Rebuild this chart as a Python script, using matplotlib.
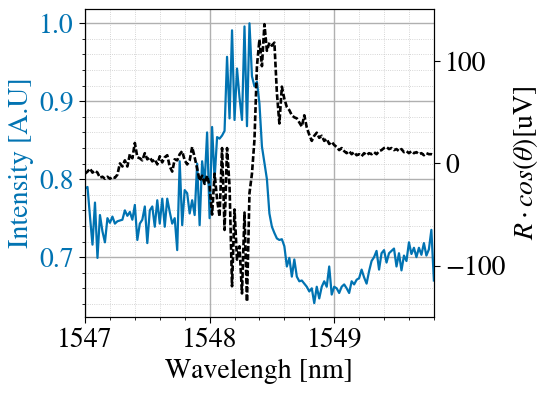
import numpy as np
import matplotlib
matplotlib.use("Agg")
import matplotlib.pyplot as plt
from matplotlib.ticker import MultipleLocator

# ---- data ----
wavelength = np.round(1547.0 + 0.02 * np.arange(141), 2)

intensity = [
    0.788, 0.790, 0.752, 0.716, 0.770, 0.699, 0.754, 0.733, 0.719, 0.750,
    0.744, 0.752, 0.743, 0.746, 0.747, 0.748, 0.760, 0.753, 0.758, 0.748,
    0.767, 0.722, 0.743, 0.748, 0.765, 0.718, 0.760, 0.765, 0.739, 0.773,
    0.743, 0.775, 0.739, 0.775, 0.758, 0.743, 0.750, 0.709, 0.823, 0.741,
    0.786, 0.782, 0.756, 0.773, 0.754, 0.820, 0.741, 0.823, 0.795, 0.860,
    0.750, 0.867, 0.800, 0.854, 0.852, 0.856, 0.862, 0.957, 0.878, 0.991,
    0.876, 0.942, 0.905, 0.876, 0.996, 0.868, 1.000, 0.932, 0.919, 0.925,
    0.897, 0.842, 0.821, 0.800, 0.756, 0.739, 0.731, 0.724, 0.722, 0.723,
    0.714, 0.688, 0.699, 0.675, 0.697, 0.675, 0.669, 0.670, 0.666, 0.662,
    0.656, 0.660, 0.641, 0.662, 0.647, 0.662, 0.669, 0.662, 0.688, 0.652,
    0.662, 0.660, 0.654, 0.662, 0.665, 0.660, 0.654, 0.669, 0.665, 0.671,
    0.673, 0.684, 0.674, 0.666, 0.682, 0.695, 0.700, 0.708, 0.684, 0.705,
    0.709, 0.693, 0.705, 0.708, 0.711, 0.688, 0.705, 0.683, 0.702, 0.695,
    0.719, 0.704, 0.712, 0.700, 0.712, 0.703, 0.718, 0.702, 0.710, 0.735, 0.670,
]

r_cos = [
    -10, -8, -5, -9, -7, -9, -14, -13, -15, -13,
    -15, -13, -14, -11, 0, -3, 3, -3, 9, 5,
    20, 6, 5, 3, 10, 4, 6, 2, 4, -1,
    7, 1, 6, 8, -3, -8, 4, 3, 9, 12,
    3, -1, 3, 16, 6, -5, -17, -12, -20, -12,
    -22, -50, -10, -35, -52, 15, -65, 15, -22, -120,
    -45, -94, -81, -127, -48, -135, -29, -10, 23, 95,
    121, 95, 136, 110, 118, 115, 118, 69, 39, 75,
    63, 55, 52, 47, 45, 44, 40, 36, 47, 35,
    28, 22, 27, 30, 25, 27, 22, 24, 19, 21,
    18, 16, 13, 15, 12, 10, 12, 9, 11, 8,
    9, 7, 10, 8, 10, 9, 11, 9, 12, 13,
    15, 16, 14, 15, 13, 14, 12, 14, 11, 12,
    10, 12, 10, 11, 9, 10, 8, 10, 9, 9, 8,
]

xticks = [1547, 1548, 1549]
left_ticks = [0.7, 0.8, 0.9, 1.0]
right_ticks = [-100, 0, 100]

# ---- style ----
plt.rcParams['font.family'] = ['STIXGeneral', 'DejaVu Serif']
plt.rcParams['mathtext.fontset'] = 'stix'
plt.rcParams['font.size'] = 20
plt.rcParams['axes.unicode_minus'] = True

blue = '#0173b2'

fig = plt.figure(figsize=(5.52, 3.93), dpi=100)
ax = fig.add_axes([0.154, 0.194, 0.632, 0.783])

ax.plot(wavelength, intensity, color=blue, lw=1.6)
ax.set_xlim(1547.0, 1549.8)
ax.set_ylim(0.6235, 1.0183)
ax.set_xticks(xticks)
ax.set_xticklabels([str(t) for t in xticks])
ax.set_yticks(left_ticks)
ax.set_yticklabels([f"{t:.1f}" for t in left_ticks])
ax.xaxis.set_minor_locator(MultipleLocator(0.2))
ax.yaxis.set_minor_locator(MultipleLocator(0.02))
ax.grid(which='major', color='#b0b0b0', lw=1.0, ls='-')
ax.grid(which='minor', color='#c8c8c8', lw=0.6, ls=':')
ax.set_axisbelow(True)
ax.tick_params(axis='y', colors='black', labelcolor=blue, which='both')
ax.tick_params(axis='both', which='major', labelsize=20, length=4.5)
ax.tick_params(axis='both', which='minor', length=2.5)
ax.set_xlabel('Wavelengh [nm]', fontsize=20)
ax.set_ylabel('Intensity [A.U]', fontsize=20, color=blue)

ax2 = ax.twinx()
ax2.plot(wavelength, r_cos, color='black', lw=1.9, ls=(0, (2.2, 0.9)))
ax2.set_ylim(-149.8, 150.8)
ax2.set_yticks(right_ticks)
ax2.tick_params(axis='y', which='major', labelsize=20, length=4.5)
ax2.set_ylabel(r'$R\cdot cos(\theta)$[uV]', fontsize=20)

fig.savefig('out.png', dpi=100)
